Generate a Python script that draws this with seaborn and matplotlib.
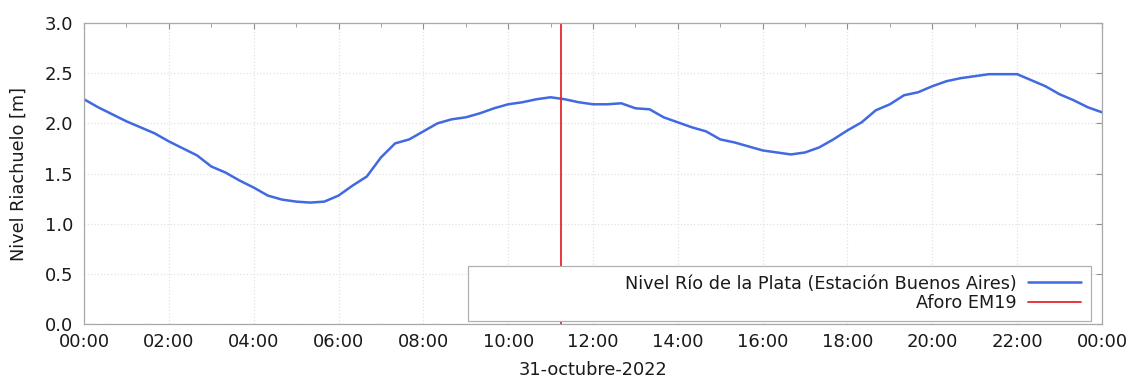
import pandas as pd
import matplotlib
matplotlib.use("Agg")
import matplotlib.pyplot as plt
import matplotlib.dates as mdates
from matplotlib.patches import Rectangle
import seaborn as sns

# nivel cada 20 minutos, 31-oct-2022 00:00 -> 01-nov-2022 00:00
nivel = [2.24, 2.16, 2.09, 2.02, 1.96, 1.90, 1.82, 1.75, 1.68, 1.57, 1.51, 1.43,
         1.36, 1.28, 1.24, 1.22, 1.21, 1.22, 1.28, 1.38, 1.47, 1.66, 1.80, 1.84,
         1.92, 2.00, 2.04, 2.06, 2.10, 2.15, 2.19, 2.21, 2.24, 2.26, 2.24, 2.21,
         2.19, 2.19, 2.20, 2.15, 2.14, 2.06, 2.01, 1.96, 1.92, 1.84, 1.81, 1.77,
         1.73, 1.71, 1.69, 1.71, 1.76, 1.84, 1.93, 2.01, 2.13, 2.19, 2.28, 2.31,
         2.37, 2.42, 2.45, 2.47, 2.49, 2.49, 2.49, 2.43, 2.37, 2.29, 2.23, 2.16,
         2.11]
inicio = "2022-10-31 00:00"
fin = "2022-11-01 00:00"
aforo = "2022-10-31 11:15"
label_nivel = "Nivel Río de la Plata (Estación Buenos Aires)"
label_aforo = "Aforo EM19"

df = pd.DataFrame({
    "hora": pd.date_range(inicio, periods=len(nivel), freq="20min"),
    "nivel": nivel,
})

sns.set_style("white")
plt.rcParams["font.family"] = ["DejaVu Sans"]
plt.rcParams["font.size"] = 12.7

fig = plt.figure(figsize=(11.37, 3.81), dpi=100)
ax = fig.add_axes([0.0739, 0.1496, 0.8953, 0.79])

sns.lineplot(data=df, x="hora", y="nivel", ax=ax, color="#4169e1", linewidth=1.8,
             label=label_nivel)
ax.axvline(pd.Timestamp(aforo), color="#e8262b", linewidth=1.3, label=label_aforo)

ax.set_xlim(pd.Timestamp(inicio), pd.Timestamp(fin))
ax.set_ylim(0, 3)
ax.set_yticks([0, 0.5, 1.0, 1.5, 2.0, 2.5, 3.0])
ax.yaxis.set_major_formatter(matplotlib.ticker.FormatStrFormatter("%.1f"))
ax.xaxis.set_major_locator(mdates.HourLocator(interval=2))
ax.xaxis.set_minor_locator(mdates.HourLocator(interval=1))
ax.xaxis.set_major_formatter(mdates.DateFormatter("%H:%M"))

ax.grid(True, which="major", color="#e2e2e2", linestyle=":", linewidth=0.9)
for s in ax.spines.values():
    s.set_color("#a8a8a8")
    s.set_linewidth(0.9)
ax.tick_params(axis="both", which="both", direction="in", top=True, right=True,
               color="#909090", labelsize=13, labelcolor="#1a1a1a")
ax.tick_params(axis="x", which="major", length=4, pad=6.5)
ax.tick_params(axis="y", which="major", length=4, pad=8)
ax.tick_params(which="minor", length=3)

ax.set_xlabel("31-octubre-2022", fontsize=12.8, color="#1a1a1a", labelpad=7)
ax.set_ylabel("Nivel Riachuelo [m]", fontsize=12.8, color="#1a1a1a", labelpad=12)

# caja de la leyenda
ax.add_patch(Rectangle((0.377, 0.01), 0.612, 0.183, transform=ax.transAxes,
                       facecolor="white", edgecolor="#b0b0b0", linewidth=0.9,
                       zorder=5))
leg = ax.legend(loc="lower right", bbox_to_anchor=(0.993, -0.008), frameon=False,
                markerfirst=False, handlelength=3.0, handletextpad=0.65,
                labelspacing=0.1, fontsize=12.7, borderpad=0.3)
leg.set_zorder(6)
for t in leg.get_texts():
    t.set_color("#1a1a1a")

fig.savefig("out.png", dpi=100)
